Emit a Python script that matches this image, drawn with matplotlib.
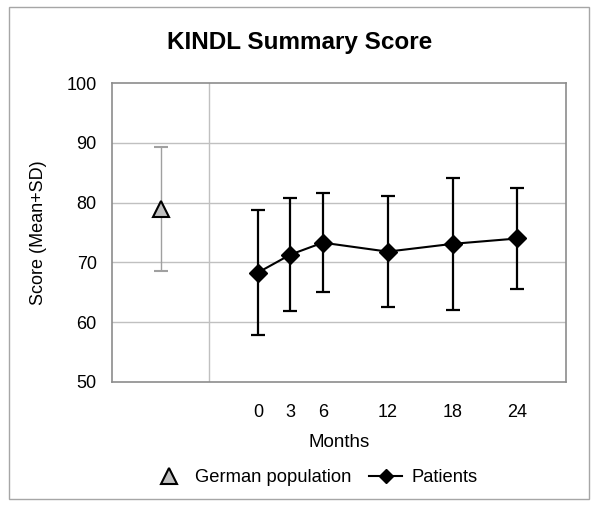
import matplotlib
matplotlib.use("Agg")
from matplotlib import pyplot as plt
from matplotlib.lines import Line2D
from matplotlib.patches import Rectangle

plt.rcParams['font.family'] = ['Liberation Sans', 'DejaVu Sans']

# data
months = [0, 3, 6, 12, 18, 24]
patient_mean = [68.3, 71.3, 73.3, 71.8, 73.1, 74.0]
patient_sd = [10.5, 9.5, 8.3, 9.3, 11.0, 8.5]
german_mean = [78.9]
german_sd = [10.4]

# layout
german_x = -9
divider_x = -4.5

fig = plt.figure(figsize=(6, 5.12), dpi=100)
fig.patches.append(Rectangle((9/600, 13/512), 580/600, 492/512,
                             transform=fig.transFigure, fill=False,
                             edgecolor="#a6a6a6", linewidth=1))
ax = fig.add_axes([112/600, 130/512, 454/600, 299/512])

ax.set_xlim(-13.5, 28.5)
ax.set_ylim(50, 100)
ax.set_yticks([50, 60, 70, 80, 90, 100])
ax.set_xticks(months)
ax.set_xticklabels([str(m) for m in months])
for y in [60, 70, 80, 90]:
    ax.axhline(y, color="#c0c0c0", linewidth=1, zorder=0)
ax.axvline(divider_x, color="#c0c0c0", linewidth=1, zorder=0)

for s in ax.spines.values():
    s.set_color("#8c8c8c")
    s.set_linewidth(1.2)
ax.tick_params(length=0, labelsize=13)
ax.tick_params(axis='x', pad=16)
ax.tick_params(axis='y', pad=11)

ax.errorbar([german_x], german_mean, yerr=german_sd, fmt='^', ms=12,
            mfc="#c0c0c0", mec="black", mew=1.5, ecolor="#a0a0a0",
            elinewidth=1, capsize=5, capthick=1, zorder=3)
ax.errorbar(months, patient_mean, yerr=patient_sd, fmt='-D', ms=9,
            color="black", lw=1.5, ecolor="black", elinewidth=1.6,
            capsize=5, capthick=1.6, zorder=4)

ax.set_xlabel("Months", fontsize=13.5, labelpad=9)
ax.set_ylabel("Score (Mean+SD)", fontsize=13, labelpad=14)

fig.text(0.5, 1 - 42/512, "KINDL Summary Score", ha='center', va='center',
         fontsize=17.5, fontweight='bold')

legend = [
    Line2D([], [], linestyle='none', marker='^', ms=11, mfc="#c0c0c0",
           mec="black", mew=1.5, label="German population"),
    Line2D([], [], color="black", lw=1.5, marker='D', ms=7,
           label="Patients"),
]
fig.legend(handles=legend, loc='center', bbox_to_anchor=(315/600, 34/512),
           ncol=2, frameon=False, fontsize=13.2, handlelength=1.8,
           columnspacing=1.0, handletextpad=0.5)

plt.savefig("out.png", dpi=100)
